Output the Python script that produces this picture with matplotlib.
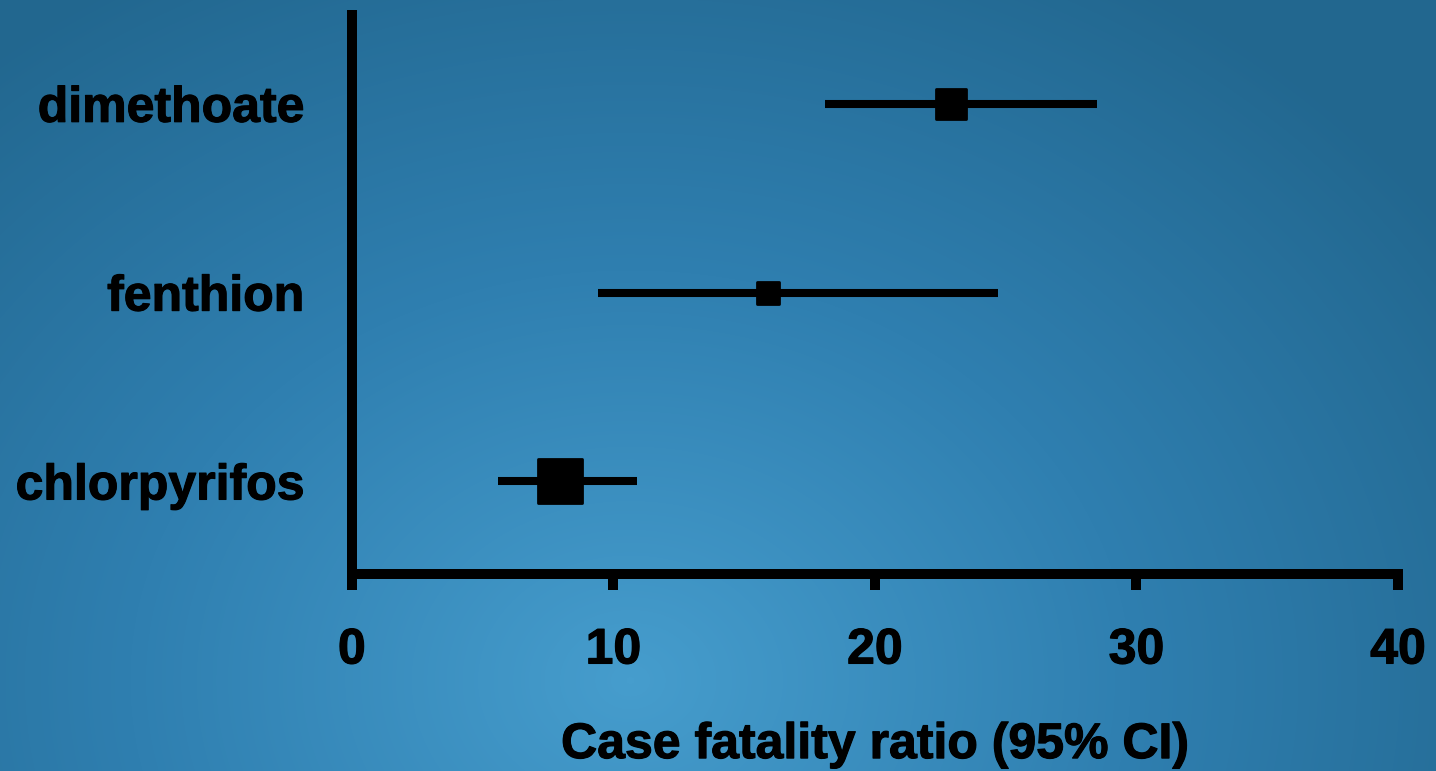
import numpy as np
import matplotlib.pyplot as plt
import matplotlib.patheffects as pe
from matplotlib.colors import LinearSegmentedColormap
from matplotlib.markers import MarkerStyle

# forest plot data
drugs = ['chlorpyrifos', 'fenthion', 'dimethoate']
cfr = [7.95, 15.9, 22.9]
ci_low = [5.6, 9.4, 18.1]
ci_high = [10.9, 24.7, 28.5]
box_size = [32, 15.5, 22]   # marker size in points (study weight)
xticks = [0, 10, 20, 30, 40]

plt.rcParams['font.family'] = ['Liberation Sans', 'DejaVu Sans']
plt.rcParams['font.weight'] = 'bold'
heavy = [pe.withStroke(linewidth=0.8, foreground='black')]

fig = plt.figure(figsize=(14.36, 7.71), dpi=100)

# blue radial background
bg = fig.add_axes([0, 0, 1, 1], zorder=-1)
yy, xx = np.mgrid[0:771, 0:1436]
r = np.sqrt(((xx - 630) / 1000.0) ** 2 + ((yy - 680) / 820.0) ** 2)
r = np.clip(r, 0, 1)
cmap = LinearSegmentedColormap.from_list('bg', ['#469dcd', '#2f7fb0', '#22678f'])
bg.imshow(r, cmap=cmap, aspect='auto', extent=[0, 1, 0, 1], origin='upper')
bg.axis('off')

ax = fig.add_axes([0.245, 0.2555, 0.7285, 0.725])
ax.set_facecolor('none')

sq = MarkerStyle('s', joinstyle='round')
ypos = np.arange(1, len(drugs) + 1)
for y, c, lo, hi, s in zip(ypos, cfr, ci_low, ci_high, box_size):
    ax.plot([lo, hi], [y, y], color='black', lw=5.8, solid_capstyle='butt')
    ax.plot(c, y, marker=sq, ms=s, color='black', mec='black', mew=2,
            linestyle='none')

ax.set_xlim(0, 40)
ax.set_ylim(0.51, 3.47)
ax.set_xticks(xticks)
ax.set_xticklabels([str(t) for t in xticks], fontsize=36, fontweight='bold')
ax.set_yticks(ypos)
ax.set_yticklabels(drugs, fontsize=36, fontweight='bold')
ax.tick_params(axis='x', length=11.5, width=7.2, direction='out', pad=27)
ax.tick_params(axis='y', length=0, pad=34)
ax.set_xlabel('Case fatality ratio (95% CI)', fontsize=36, fontweight='bold', labelpad=35)
for t in ax.get_xticklabels() + ax.get_yticklabels() + [ax.xaxis.label]:
    t.set_path_effects(heavy)

for side in ['top', 'right']:
    ax.spines[side].set_visible(False)
for side in ['left', 'bottom']:
    ax.spines[side].set_linewidth(7.2)
    ax.spines[side].set_capstyle('projecting')

fig.savefig('out.png', dpi=100)
